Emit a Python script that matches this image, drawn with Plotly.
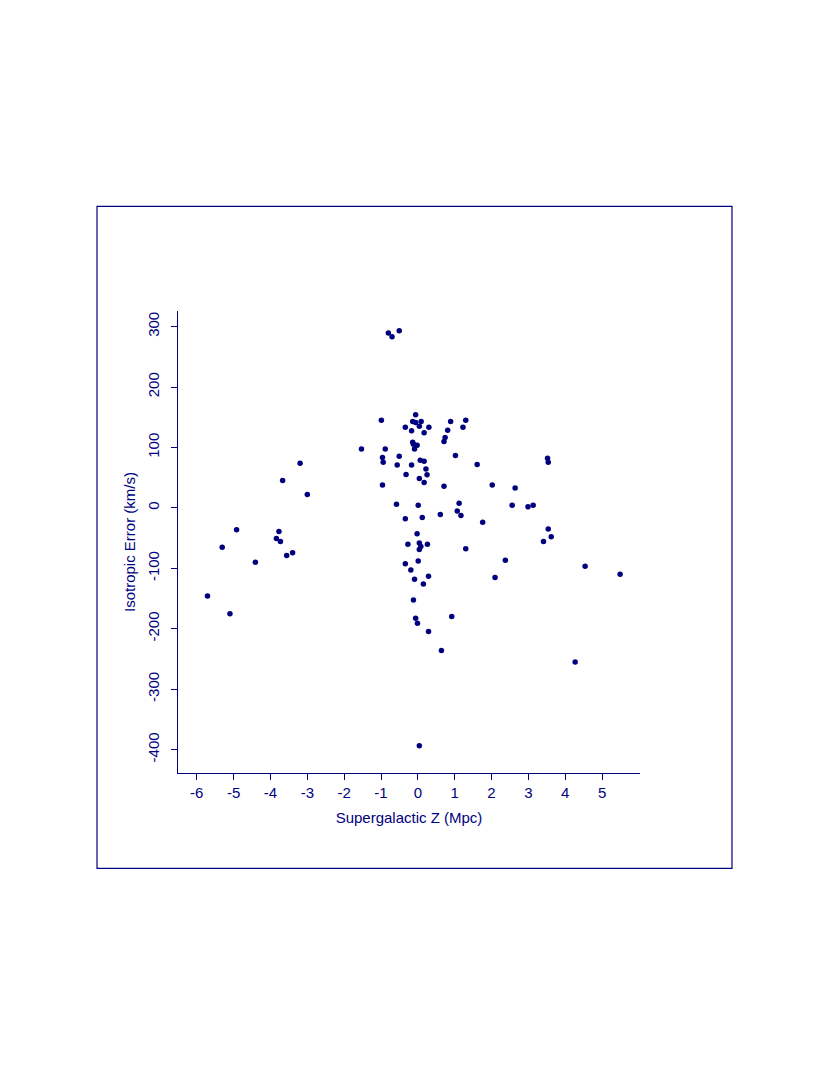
import plotly.graph_objects as go

# Supergalactic Z (Mpc)
sgz = [
    -0.80, -0.70, -0.505, -0.99, -0.34, -1.53, -0.885, -0.96, -0.505, -0.94,
    -0.56, -0.32, -3.196, -3.67, -3.00, -0.96, -0.58, -0.34, -4.92, -3.77,
    -3.84, -3.73, -5.31, -3.56, -3.40, -4.41, -5.71, -5.10, 0.01, 0.12,
    -0.02, -0.27, 0.04, 0.08, 0.04, 0.26, 0.01, -0.34, -0.19, -0.09,
    0.15, 0.29, -0.12, -0.06, -0.01, 0.29, 0.17, 0.71, 2.02, 2.64,
    1.12, 0.61, 1.07, 1.17, 2.56, 2.99, 1.76, 1.30, 2.375, 2.095,
    0.92, 0.64, 0.04, -0.06, -0.14, -0.06, 0.09, 0.04, 0.30, -0.17,
    0.17, 0.89, 1.30, 0.81, 1.225, 0.74, 0.71, -0.14, -0.12, -0.02,
    -0.09, 1.02, 0.065, 0.17, -0.17, 0.22, 0.25, 0.04, 1.61, 3.52,
    3.54, 3.13, 3.54, 3.62, 3.41, 4.54, 5.49, 4.27,
]

# Isotropic Error (km/s)
iso_err = [
    289.5, 283, 293, 145, 133.6, 97.6, 97.6, 83.2, 85.4, 75.4,
    71, 55.4, 73.7, 45.4, 22.1, 37.7, 6.1, -17.8, -36.3, -39,
    -50.5, -55.5, -65, -78.8, -74.3, -89.9, -146, -175, 4.5, -16,
    -42.7, -60, -58, -64, -69, -60, -88, -92.6, -102.6, -118,
    -126, -113, -152.5, -182.5, -190.8, -204.7, 42, 36, 37.7, 33,
    7.8, -11, -5, -12.8, 4.5, 1.7, -23.8, -67.7, -86.5, -115,
    -179.7, -236, -393.8, 154, 143, 141.4, 143, 135, 133.6, 127.6,
    124.3, 143, 145, 128.6, 133.6, 116.5, 109.8, 108.7, 105.3, 103.7,
    97.6, 86.5, 78.7, 77, 71, 64.4, 55, 48.8, 72, 82,
    75.4, 4.5, -35, -47.7, -55.5, -96.5, -110, -255,
]

x_ticks = [-6, -5, -4, -3, -2, -1, 0, 1, 2, 3, 4, 5]
x_ticklabels = ["-6", "-5", "-4", "-3", "-2", "-1", "0", "1", "2", "3", "4", "5"]
y_ticks = [300, 200, 100, 0, -100, -200, -300, -400]
y_ticklabels = ["300", "200", "100", "0", "-100", "-200", "-300", "-400"]

NAVY = "#00007f"
FONT = "Liberation Sans, Arial, Helvetica, sans-serif"

fig = go.Figure()
fig.add_trace(go.Scatter(
    x=sgz, y=iso_err, mode="markers",
    marker=dict(color=NAVY, size=5.5, line=dict(width=0)),
    hoverinfo="skip", showlegend=False,
))

axis_common = dict(
    showline=True, linecolor=NAVY, linewidth=1.3,
    ticks="outside", ticklen=6, tickwidth=1.3, tickcolor=NAVY,
    showgrid=False, zeroline=False, mirror=False,
    tickfont=dict(family=FONT, size=15, color=NAVY),
)

fig.update_layout(
    width=822, height=1067,
    margin=dict(l=170, r=190, t=303, b=302, pad=0),
    paper_bgcolor="white", plot_bgcolor="white",
    font=dict(family=FONT, color=NAVY),
    xaxis=dict(
        range=[-6.51, 6.03], tickvals=x_ticks, ticktext=x_ticklabels,
        title=dict(text="Supergalactic Z (Mpc)", font=dict(family=FONT, size=15, color=NAVY), standoff=12),
        ticklabelstandoff=0,
        **axis_common,
    ),
    yaxis=dict(
        range=[-438.7, 325.8], tickvals=y_ticks, ticktext=y_ticklabels, tickangle=-90,
        title=dict(text="Isotropic Error (km/s)", font=dict(family=FONT, size=15, color=NAVY), standoff=5),
        ticklabelstandoff=6,
        **axis_common,
    ),
    shapes=[dict(
        type="rect", xref="paper", yref="paper",
        x0=-0.1753, x1=1.1991, y0=-0.2063, y1=1.2266,
        line=dict(color=NAVY, width=1.2), fillcolor="rgba(0,0,0,0)",
    )],
)

fig.write_html("out.html")
